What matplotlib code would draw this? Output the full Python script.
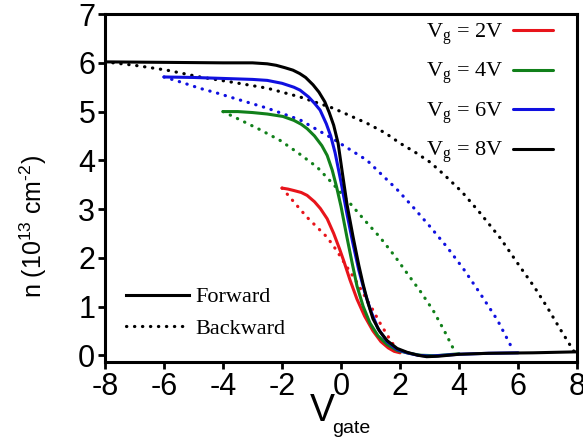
import numpy as np
import matplotlib
matplotlib.use("Agg")
import matplotlib.pyplot as plt
from matplotlib.lines import Line2D

# ── data (x = V_gate, y = n in 1e13 cm^-2) ────────────────────────────────────
# Vg = 2 V
fwd2_x = [-2.0, -1.8, -1.6, -1.35, -1.15, -0.9, -0.7, -0.47, -0.25, -0.05, 0.1, 0.3, 0.54,
          0.8, 1.08, 1.35, 1.6, 1.8, 2.0]
fwd2_y = [3.43, 3.41, 3.38, 3.34, 3.28, 3.15, 3.01, 2.8, 2.5, 2.18, 1.92, 1.55, 1.15,
          0.8, 0.5, 0.28, 0.15, 0.08, 0.05]
bwd2_x = [-2.0, -1.73, -1.45, -1.15, -0.8, -0.47, -0.15, 0.2, 0.48, 0.75, 1.05, 1.32, 1.6, 1.9]
bwd2_y = [3.43, 3.24, 3.04, 2.83, 2.62, 2.42, 2.15, 1.81, 1.55, 1.27, 0.96, 0.66, 0.38, 0.1]

# Vg = 4 V
fwd4_x = [-4.0, -3.5, -3.0, -2.5, -1.97, -1.6, -1.35, -1.15, -0.9, -0.65, -0.47, -0.3, -0.15,
          0.0, 0.2, 0.38, 0.54, 0.75, 0.98, 1.25, 1.56, 1.9, 2.3, 2.7, 3.2, 4.0]
fwd4_y = [5.0, 5.0, 4.98, 4.95, 4.9, 4.82, 4.74, 4.65, 4.5, 4.3, 4.1, 3.8, 3.45,
          3.05, 2.42, 1.88, 1.42, 1.0, 0.66, 0.4, 0.22, 0.1, 0.04, 0.0, -0.01, 0.03]
bwd4_x = [-4.0, -3.42, -2.75, -2.07, -1.45, -0.81, -0.25, 0.3, 0.8, 1.32, 1.8, 2.24, 2.7,
          3.12, 3.5, 3.85]
bwd4_y = [5.0, 4.83, 4.63, 4.41, 4.15, 3.86, 3.5, 3.12, 2.77, 2.42, 2.05, 1.68, 1.3,
          0.92, 0.5, 0.08]

# Vg = 6 V
fwd6_x = [-6.0, -5.0, -4.0, -3.0, -2.5, -2.0, -1.6, -1.39, -1.1, -0.9, -0.71, -0.5, -0.35,
          -0.2, 0.0, 0.2, 0.4, 0.6, 0.8, 1.0, 1.25, 1.56, 1.9, 2.24, 2.6, 3.0, 4.0, 5.0, 6.0]
fwd6_y = [5.71, 5.7, 5.68, 5.66, 5.64, 5.58, 5.5, 5.44, 5.3, 5.17, 5.03, 4.75, 4.5,
          4.15, 3.55, 2.9, 2.3, 1.75, 1.3, 0.92, 0.55, 0.28, 0.12, 0.05, 0.0, -0.02, 0.02, 0.04, 0.05]
bwd6_x = [-6.0, -5.4, -4.8, -4.2, -3.66, -2.5, -1.39, -0.3, 0.88, 1.32, 1.9, 2.44, 3.0,
          3.59, 4.15, 4.71, 5.3, 5.85]
bwd6_y = [5.71, 5.6, 5.48, 5.38, 5.28, 5.07, 4.83, 4.45, 4.0, 3.74, 3.4, 3.04, 2.65,
          2.22, 1.77, 1.27, 0.72, 0.08]

# Vg = 8 V
fwd8_x = [-8.0, -6.0, -4.0, -3.0, -2.5, -2.2, -1.9, -1.63, -1.4, -1.2, -0.95, -0.75, -0.55,
          -0.4, -0.25, -0.1, 0.03, 0.2, 0.41, 0.6, 0.75, 0.9, 1.08, 1.3, 1.56, 1.9, 2.24,
          2.6, 2.9, 3.3, 4.0, 5.0, 6.5, 8.0]
fwd8_y = [6.02, 6.01, 6.0, 6.0, 5.98, 5.95, 5.9, 5.85, 5.78, 5.7, 5.55, 5.4, 5.2,
          4.98, 4.72, 4.35, 3.8, 3.1, 2.42, 1.85, 1.45, 1.1, 0.75, 0.5, 0.3, 0.14, 0.06,
          0.0, -0.03, -0.02, 0.02, 0.04, 0.05, 0.07]
bwd8_x = [-8.0, -7.0, -5.9, -4.78, -3.66, -2.5, -1.39, -0.27, 0.88, 1.5, 2.0, 2.5, 3.02,
          3.5, 4.1, 4.71, 5.4, 6.07, 6.55, 6.98, 7.4, 7.9]
bwd8_y = [6.02, 5.95, 5.85, 5.71, 5.6, 5.48, 5.3, 5.07, 4.76, 4.56, 4.35, 4.17, 3.96,
          3.7, 3.35, 2.92, 2.4, 1.81, 1.4, 0.99, 0.56, 0.07]

curves = [
    ("2", "#e8141b", fwd2_x, fwd2_y, bwd2_x, bwd2_y),
    ("4", "#11801a", fwd4_x, fwd4_y, bwd4_x, bwd4_y),
    ("6", "#1010e0", fwd6_x, fwd6_y, bwd6_x, bwd6_y),
    ("8", "#000000", fwd8_x, fwd8_y, bwd8_x, bwd8_y),
]

xticks = [-8, -6, -4, -2, 0, 2, 4, 6, 8]
yticks = [0, 1, 2, 3, 4, 5, 6, 7]

plt.rcParams['font.family'] = ['Liberation Sans', 'DejaVu Sans']
plt.rcParams['axes.unicode_minus'] = False

fig = plt.figure(figsize=(5.83, 4.41), dpi=100)
ax = fig.add_axes([0.180, 0.179, 0.810, 0.789])

DOT = (0, (0.1, 2.4))
handles = []
for vg, col, fx, fy, bx, by in curves:
    ax.plot(bx, by, color=col, lw=2.3, linestyle=DOT, dash_capstyle='round')
for vg, col, fx, fy, bx, by in curves:
    h, = ax.plot(fx, fy, color=col, lw=2.2, solid_capstyle='round')
    handles.append((h, r'V$_{\mathregular{g}}$ = %sV' % vg))

ax.set_xlim(-8, 8)
ax.set_ylim(-0.14, 7)
ax.set_xticks(xticks)
ax.set_yticks(yticks)
ax.tick_params(direction='out', length=5, width=2, labelsize=22, pad=2)
for s in ax.spines.values():
    s.set_linewidth(2.2)

# x label: big "V" with a small "gate" subscript
ax.set_xlabel('V', fontsize=27)
ax.xaxis.set_label_coords(0.46, -0.088)
fig.text(0.570, 0.018, 'gate', fontsize=14, ha='left', va='baseline')

ax.set_ylabel('n (10$^{\\mathregular{13}}$ cm$^{\\mathregular{\u20102}}$)', fontsize=18)
ax.yaxis.set_label_coords(-0.118, 0.39)

serif = {'family': 'Liberation Serif', 'size': 16}
leg1 = ax.legend([h for h, _ in handles], [l for _, l in handles], loc='upper right',
                 bbox_to_anchor=(0.972, 1.01), frameon=False, markerfirst=False,
                 prop=serif, handlelength=1.8, handletextpad=0.45, labelspacing=0.6,
                 borderpad=0)
ax.add_artist(leg1)

style_handles = [Line2D([], [], color='k', lw=2.2),
                 Line2D([], [], color='k', lw=2.3, linestyle=DOT, dash_capstyle='round')]
ax.legend(style_handles, ['Forward', 'Backward'], loc='lower left',
          bbox_to_anchor=(0.022, 0.034), frameon=False, prop=serif,
          handlelength=2.8, handletextpad=0.3, labelspacing=0.5, borderpad=0)

fig.savefig('out.png', dpi=100)
